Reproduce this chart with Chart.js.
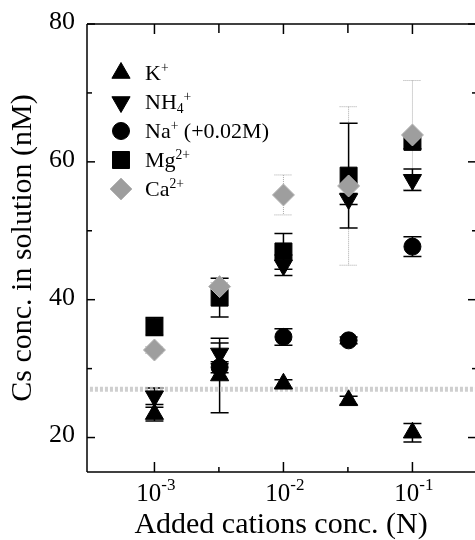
<!DOCTYPE html>
<html>
<head>
<meta charset="utf-8">
<script src="https://cdn.jsdelivr.net/npm/chart.js@4.4.0/dist/chart.umd.min.js"></script>
<style>
  html, body { margin: 0; padding: 0; background: #fff; overflow: hidden; }
</style>
</head>
<body>
<canvas id="chart" width="475" height="540"></canvas>
<script>
// added cation concentration (N)
const concN = [1e-3, 3.2e-3, 1e-2, 3.2e-2, 1e-1];

// Cs conc. in solution (nM) and error bars
const kVals   = [23.4, 29.0, 27.8, 25.4, 20.7];
const kErr    = [1.0, 5.4, 0.6, 0.6, 1.35];
const nh4Vals = [26.0, 32.2, 45.0, 54.6, 57.4];
const nh4Err  = [1.2, 1.5, 1.5, 0.8, 1.55];
const naVals  = [null, 30.2, 34.6, 34.1, 47.7];
const naErr   = [0, 0.8, 1.2, 0.5, 1.45];
const mgVals  = [36.1, 40.3, 47.0, 58.0, 62.9];
const mgErr   = [1.3, 2.8, 2.6, 7.6, 1.0];
const caVals  = [32.7, 41.9, 55.2, 56.5, 63.9];
const caErr   = [0.5, 0.6, 2.9, 11.5, 7.9];

// level without added cations (grey band)
const baseLevel = 27.0;

// visible range (right edge of the frame is cut off in the figure)
const xRange = [Math.pow(10, -3.5), Math.pow(10, -0.515)];
const yRange = [15, 80];
const xMajorTicks = [1e-3, 1e-2, 1e-1];
const xTickExps = ['-3', '-2', '-1'];
const xMinorTicks = [3.16e-3, 3.16e-2];
const yMajorTicks = [20, 40, 60, 80];
const yMinorTicks = [30, 50, 70];

const SERIF = '"Liberation Serif", "Times New Roman", serif';

const toPoints = (vals) => concN.map((x, i) => ({ x: x, y: vals[i] }));

const seriesStyle = (color, style, radius, rotation) => ({
  showLine: false,
  pointStyle: style,
  pointRadius: radius,
  pointHoverRadius: radius,
  rotation: rotation || 0,
  pointBackgroundColor: color,
  pointBorderColor: color,
  pointBorderWidth: 1,
});

const datasets = [
  Object.assign({ label: 'Ca', data: toPoints(caVals), errorBars: caErr, errorColor: '#a8a8a8', errorWidth: 1, errorDash: [1, 1], order: 0,
    legend: [['Ca'], ['2+', 'sup']] },
    seriesStyle('#9e9e9e', 'rectRot', 11), { pointBorderColor: '#b4b4b4' }),
  Object.assign({ label: 'Mg', data: toPoints(mgVals), errorBars: mgErr, errorColor: '#000', errorWidth: 1.5, order: 1,
    legend: [['Mg'], ['2+', 'sup']] },
    seriesStyle('#000', 'rect', 12)),
  Object.assign({ label: 'Na', data: toPoints(naVals), errorBars: naErr, errorColor: '#000', errorWidth: 1.5, order: 2,
    legend: [['Na'], ['+', 'sup'], [' (+0.02M)']] },
    seriesStyle('#000', 'circle', 8.5)),
  Object.assign({ label: 'NH4', data: toPoints(nh4Vals), errorBars: nh4Err, errorColor: '#000', errorWidth: 1.5, order: 3,
    legend: [['NH'], ['4', 'sub'], ['+', 'sup']] },
    seriesStyle('#000', 'triangle', 10.5, 180)),
  Object.assign({ label: 'K', data: toPoints(kVals), errorBars: kErr, errorColor: '#000', errorWidth: 1.5, order: 4,
    legend: [['K'], ['+', 'sup']] },
    seriesStyle('#000', 'triangle', 10.5)),
  {
    label: 'base', type: 'line', order: 5,
    data: [{ x: xRange[0], y: baseLevel }, { x: xRange[1], y: baseLevel }],
    borderColor: 'rgba(195,195,195,0.8)', borderWidth: 5, borderDash: [3, 2],
    pointRadius: 0, showLine: true,
  },
];

// legend order as in the figure
const legendOrder = ['K', 'NH4', 'Na', 'Mg', 'Ca'];

function drawRich(ctx, x, y, parts, size) {
  let cx = x;
  parts.forEach(([t, kind]) => {
    let fs = size, dy = 0;
    if (kind === 'sup') { fs = size * 0.62; dy = -size * 0.27; }
    if (kind === 'sub') { fs = size * 0.62; dy = size * 0.27; }
    ctx.font = fs + 'px ' + SERIF;
    ctx.fillText(t, cx, y + dy);
    cx += ctx.measureText(t).width;
  });
}

const errorBarPlugin = {
  id: 'errorBars',
  beforeDatasetsDraw(chart) {
    const { ctx, chartArea, scales: { x, y } } = chart;
    ctx.save();
    ctx.beginPath();
    ctx.rect(chartArea.left, chartArea.top, chartArea.width, chartArea.height);
    ctx.clip();
    chart.data.datasets.forEach((ds) => {
      if (!ds.errorBars) return;
      ctx.strokeStyle = ds.errorColor;
      ctx.lineWidth = ds.errorWidth;
      ctx.setLineDash(ds.errorDash || []);
      ds.data.forEach((p, i) => {
        const e = ds.errorBars[i];
        if (p.y == null || !e) return;
        const px = x.getPixelForValue(p.x);
        const top = y.getPixelForValue(p.y + e);
        const bot = y.getPixelForValue(p.y - e);
        ctx.beginPath();
        ctx.moveTo(px, top); ctx.lineTo(px, bot);
        ctx.moveTo(px - 9, top); ctx.lineTo(px + 9, top);
        ctx.moveTo(px - 9, bot); ctx.lineTo(px + 9, bot);
        ctx.stroke();
      });
    });
    ctx.restore();
  }
};

const framePlugin = {
  id: 'frame',
  afterDraw(chart) {
    const { ctx, chartArea: { left, right, top, bottom }, scales: { x, y } } = chart;
    ctx.save();
    ctx.strokeStyle = '#000';
    ctx.lineWidth = 1.5;
    const seg = (x1, y1, x2, y2) => { ctx.beginPath(); ctx.moveTo(x1, y1); ctx.lineTo(x2, y2); ctx.stroke(); };
    // frame: the right side lies just outside the picture
    seg(left, top, right, top);
    seg(left, top, left, bottom);
    seg(left, bottom, right, bottom);
    const rx = right + 2;
    yMajorTicks.forEach((v) => { const py = y.getPixelForValue(v); seg(left, py, left + 8, py); seg(rx, py, rx - 9, py); });
    yMinorTicks.forEach((v) => { const py = y.getPixelForValue(v); seg(left, py, left + 5, py); seg(rx, py, rx - 5, py); });
    xMajorTicks.forEach((v) => { const px = x.getPixelForValue(v); seg(px, bottom, px, bottom - 10); seg(px, top, px, top + 10); });
    xMinorTicks.forEach((v) => { const px = x.getPixelForValue(v); seg(px, bottom, px, bottom - 5); seg(px, top, px, top + 9); });

    // x tick labels 10^n
    ctx.fillStyle = '#000';
    ctx.textBaseline = 'alphabetic';
    ctx.textAlign = 'left';
    xMajorTicks.forEach((v, i) => {
      const px = x.getPixelForValue(v);
      ctx.font = '25px ' + SERIF;
      const wb = ctx.measureText('10').width;
      ctx.font = '17px ' + SERIF;
      const we = ctx.measureText(xTickExps[i]).width;
      const sx = px + 1.5 - (wb + we) / 2;
      ctx.font = '25px ' + SERIF;
      ctx.fillText('10', sx, 501);
      ctx.font = '17px ' + SERIF;
      ctx.fillText(xTickExps[i], sx + wb, 490);
    });

    // legend
    const H = Chart.helpers;
    legendOrder.forEach((name, i) => {
      const ds = chart.data.datasets.find((d) => d.label === name);
      const ly = 73 + i * 29;
      ctx.fillStyle = ds.pointBackgroundColor;
      ctx.strokeStyle = ds.pointBorderColor;
      ctx.lineWidth = 1;
      H.drawPoint(ctx, { pointStyle: ds.pointStyle, rotation: ds.rotation, radius: ds.pointRadius, borderWidth: 1 }, 121, ly);
      ctx.fillStyle = '#000';
      ctx.textBaseline = 'middle';
      drawRich(ctx, 145, ly + 1, ds.legend, 22);
    });
    ctx.restore();
  }
};

new Chart(document.getElementById('chart'), {
  type: 'scatter',
  data: { datasets: datasets },
  options: {
    responsive: false,
    animation: false,
    layout: { autoPadding: false, padding: { top: 24, right: 0, bottom: 0, left: 0 } },
    plugins: { legend: { display: false }, tooltip: { enabled: false } },
    scales: {
      x: {
        type: 'logarithmic',
        min: xRange[0],
        max: xRange[1],
        grid: { display: false },
        border: { display: false },
        ticks: { display: false },
        title: {
          display: true, text: 'Added cations conc. (N)', color: '#000',
          font: { family: SERIF, size: 30, lineHeight: 1 }, padding: { top: 0, bottom: 0 },
        },
        afterFit: (s) => { s.height = 68; },
      },
      y: {
        min: yRange[0],
        max: yRange[1],
        grid: { display: false },
        border: { display: false },
        afterBuildTicks: (s) => { s.ticks = yMajorTicks.map((v) => ({ value: v })); },
        ticks: { color: '#000', font: { family: SERIF, size: 26 }, padding: 4, labelOffset: -2 },
        title: {
          display: true, text: 'Cs conc. in solution (nM)', color: '#000',
          font: { family: SERIF, size: 30, lineHeight: 1 }, padding: { top: 8, bottom: 0 },
        },
        afterFit: (s) => { s.width = 87; },
      },
    },
  },
  plugins: [errorBarPlugin, framePlugin],
});
</script>
</body>
</html>
